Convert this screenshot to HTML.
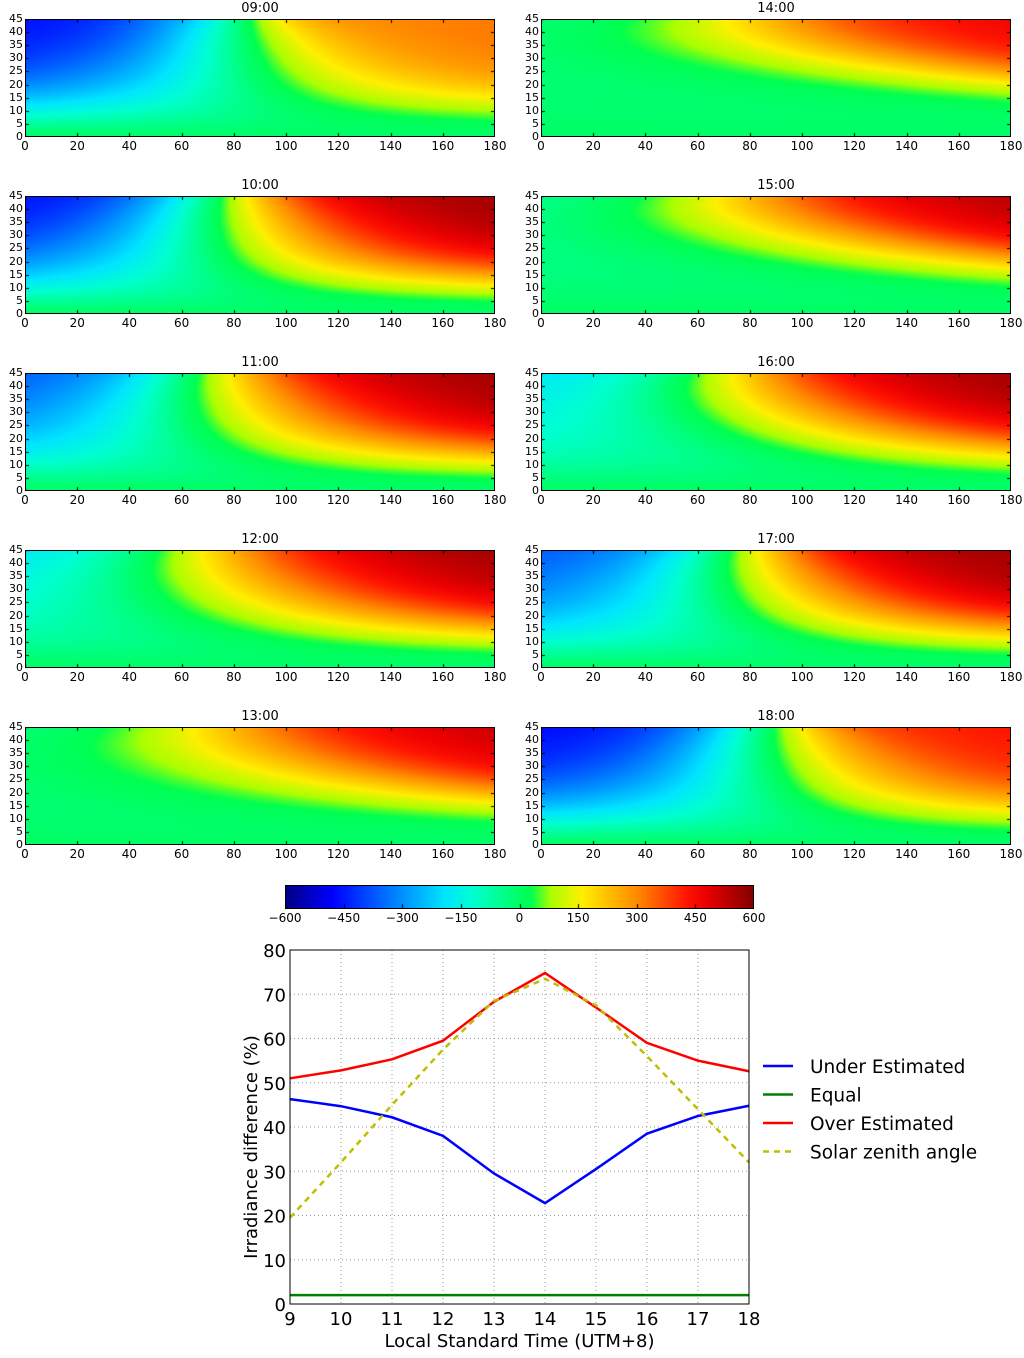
<!DOCTYPE html>
<html><head><meta charset="utf-8">
<style>
body{margin:0;background:#fff;width:1024px;height:1358px;position:relative;overflow:hidden;font-family:"DejaVu Sans","Liberation Sans",sans-serif;}
.t{position:absolute;font-size:12px;color:#000;white-space:nowrap;}
canvas{position:absolute;}
.frame{position:absolute;border:1px solid #000;box-sizing:border-box;}
</style></head>
<body>
<div id="root"></div>
<svg id="lc" width="1024" height="1358" style="position:absolute;left:0;top:0;pointer-events:none"></svg>
<script>
// heatmap panel parameters
const panelTitles=["09:00","10:00","11:00","12:00","13:00","14:00","15:00","16:00","17:00","18:00"];
const panelNeg=[-480,-480,-380,-200,-40,-30,-60,-200,-380,-480];
const panelPos=[320,560,560,560,520,470,540,560,560,430];
const panelCenter=[88,85,80,75,78,82,80,80,85,95];
const panelWidth=[8,15,18,22,25,25,24,20,15,12];
const panelShift=[30,40,60,120,250,380,300,150,70,40];
const xTicks=[0,20,40,60,80,100,120,140,160,180];
const yTicks=[0,5,10,15,20,25,30,35,40,45];
const cbTicks=[-600,-450,-300,-150,0,150,300,450,600];
// line chart data
const hours=[9,10,11,12,13,14,15,16,17,18];
const underEst=[46.3,44.7,42.2,38,29.5,22.8,30.5,38.5,42.5,44.8];
const equalEst=[2,2,2,2,2,2,2,2,2,2];
const overEst=[51,52.8,55.3,59.5,68.3,74.8,67,59,55,52.6];
const solarZenith=[19.5,32,45,57.5,68.5,73.5,67.5,56,44,32];
const lcYTicks=[0,10,20,30,40,50,60,70,80];

const cmapV=[-600,-480,-320,-190,-120,0,30,80,160,300,430,480,600];
const cmapC=[[0,0,130],[0,0,255],[0,130,255],[0,230,255],[0,255,210],[0,255,100],[0,255,80],[170,255,0],[255,240,0],[255,140,0],[255,20,0],[235,0,0],[130,0,0]];
function cmap(v){
  if(v<=cmapV[0])return cmapC[0];
  for(let i=1;i<cmapV.length;i++){if(v<=cmapV[i]){const f=(v-cmapV[i-1])/(cmapV[i]-cmapV[i-1]),a=cmapC[i-1],b=cmapC[i];
    return [a[0]+(b[0]-a[0])*f|0,a[1]+(b[1]-a[1])*f|0,a[2]+(b[2]-a[2])*f|0];}}
  return cmapC[cmapC.length-1];
}
const sig=z=>1/(1+Math.exp(-z));
function val(x,y,i){
  const t=y/45,u=1-t,c0=panelCenter[i];
  const c=c0+panelShift[i]*u*u, w=panelWidth[i]+45*u;
  const s=sig((x-c)/w);
  const A=1-Math.exp(-Math.pow(t/0.36,2));
  const An=1-Math.exp(-Math.pow(t/0.38,1.5));
  const sn=sig((x-(c0-25+panelShift[i]*u*u*0.5))/(18+20*u));
  return panelPos[i]*s*A*(0.85+0.15*x/180) + panelNeg[i]*(1-sn)*An;
}
const root=document.getElementById('root');
const W=470,H=118;
function ticks(L,T,w,h,xs,ys){
  const c=document.createElement('canvas');c.width=w;c.height=h;c.style.left=L+'px';c.style.top=T+'px';
  
  
  const g=c.getContext('2d');g.fillStyle='#000';
  xs.forEach(px=>{g.fillRect(Math.round(px),h-4,1,4);g.fillRect(Math.round(px),0,1,4);});
  ys.forEach(py=>{g.fillRect(0,Math.round(py),4,1);g.fillRect(w-4,Math.round(py),4,1);});
  root.appendChild(c);
}
for(let i=0;i<10;i++){
  const col=i<5?0:1,row=i%5;
  const L=col?541:25, T=[19,196,373,550,727][row];
  const cv=document.createElement('canvas');
  
  
  cv.width=W;cv.height=H;cv.style.left=L+'px';cv.style.top=T+'px';
  const ctx=cv.getContext('2d'),img=ctx.createImageData(W,H);
  for(let py=0;py<H;py++)for(let px=0;px<W;px++){
    const x=px/W*180,y=(1-py/H)*45;
    const [r,g,b]=cmap(val(x,y,i)),k=(py*W+px)*4;
    img.data[k]=r;img.data[k+1]=g;img.data[k+2]=b;img.data[k+3]=255;
  }
  ctx.putImageData(img,0,0);root.appendChild(cv);
  ticks(L,T,W,H,xTicks.map(v=>v/180*W),yTicks.map(v=>H-v/45*H));
  const f=document.createElement('div');f.className='frame';
  
  
  f.style.cssText=`left:${L}px;top:${T}px;width:${W}px;height:${H}px`;root.appendChild(f);
  const tt=document.createElement('div');tt.className='t';
  
  
  tt.textContent=panelTitles[i];tt.style.cssText=`left:${L}px;width:${W}px;text-align:center;top:${T-18}px;font-size:13px`;root.appendChild(tt);
  xTicks.forEach(v=>{const d=document.createElement('div');d.className='t';
    
    
    d.textContent=v;d.style.cssText=`left:${L+v/180*W-20}px;width:40px;text-align:center;top:${T+H+2}px`;root.appendChild(d);});
  yTicks.forEach(v=>{const d=document.createElement('div');d.className='t';
    
    
    d.textContent=v;d.style.cssText=`left:${L-32}px;width:30px;text-align:right;top:${T+H-v/45*H-7}px;font-size:11px`;root.appendChild(d);});
}
{const cv=document.createElement('canvas');


cv.width=469;cv.height=24;cv.style.left='285px';cv.style.top='885px';
const ctx=cv.getContext('2d');
for(let px=0;px<469;px++){const [r,g,b]=cmap(-600+px/468*1200);ctx.fillStyle=`rgb(${r},${g},${b})`;ctx.fillRect(px,0,1,24);}
ctx.fillStyle='#000';cbTicks.forEach(v=>ctx.fillRect(Math.round((v+600)/1200*469),19,1,5));
root.appendChild(cv);
const f=document.createElement('div');f.className='frame';


f.style.cssText='left:285px;top:885px;width:469px;height:24px';root.appendChild(f);
cbTicks.forEach(v=>{const d=document.createElement('div');d.className='t';
  
  
  d.textContent=v<0?'\u2212'+(-v):v;d.style.cssText=`left:${285+(v+600)/1200*469-25}px;width:50px;text-align:center;top:911px`;root.appendChild(d);});
}
const svg=document.getElementById('lc'),NS='http://www.w3.org/2000/svg';
const X0=290,X1=749,Y0=1304,Y1=950;
const sx=v=>X0+(v-9)/9*(X1-X0), sy=v=>Y0-v/80*(Y0-Y1);
const FF='DejaVu Sans, Liberation Sans, sans-serif';
function el(tag,attrs,name,txt){const e=document.createElementNS(NS,tag);for(const k in attrs)e.setAttribute(k,attrs[k]);
  
  
  if(txt!==undefined)e.textContent=txt;svg.appendChild(e);return e;}
hours.forEach(h=>{el('line',{x1:sx(h),x2:sx(h),y1:Y1,y2:Y0,stroke:'#999','stroke-dasharray':'1,3'},'x-grid-line');
  el('text',{x:sx(h),y:Y0+21,'font-size':18,'text-anchor':'middle','font-family':FF},'x-tick-label',h);});
lcYTicks.forEach(v=>{el('line',{x1:X0,x2:X1,y1:sy(v),y2:sy(v),stroke:'#999','stroke-dasharray':'1,3'},'y-grid-line');
  el('text',{x:X0-4,y:sy(v)+7,'font-size':18,'text-anchor':'end','font-family':FF},'y-tick-label',v);});
function line(arr,color,name,dash){el('polyline',{points:arr.map((v,i)=>sx(hours[i])+','+sy(v)).join(' '),fill:'none',stroke:color,'stroke-width':2.5,'stroke-dasharray':dash||'none'},name);}
line(underEst,'#0000ff','under-estimated-line');
line(equalEst,'#008000','equal-line');
line(overEst,'#ff0000','over-estimated-line');
line(solarZenith,'#bfbf00','solar-zenith-line','6,5');
el('rect',{x:X0,y:Y1,width:X1-X0,height:Y0-Y1,fill:'none',stroke:'#000','stroke-width':1},'plot-frame');
el('text',{x:(X0+X1)/2,y:1347,'font-size':18,'text-anchor':'middle','font-family':FF},'x-axis-title','Local Standard Time (UTM+8)');
el('text',{x:257,y:(Y0+Y1)/2+20,'font-size':18,'text-anchor':'middle','font-family':FF,transform:`rotate(-90 257 ${(Y0+Y1)/2+20})`},'y-axis-title','Irradiance difference (%)');
const legNames=['Under Estimated','Equal','Over Estimated','Solar zenith angle'],legCols=['#0000ff','#008000','#ff0000','#bfbf00'];
legNames.forEach((n,i)=>{const y=1066+i*28.5;
  el('line',{x1:763,x2:793,y1:y,y2:y,stroke:legCols[i],'stroke-width':2.5,'stroke-dasharray':i==3?'6,5':'none'},'legend-swatch');
  el('text',{x:810,y:y+7,'font-size':18.5,'font-family':FF},'legend-entry',n);});
</script>
</body></html>
